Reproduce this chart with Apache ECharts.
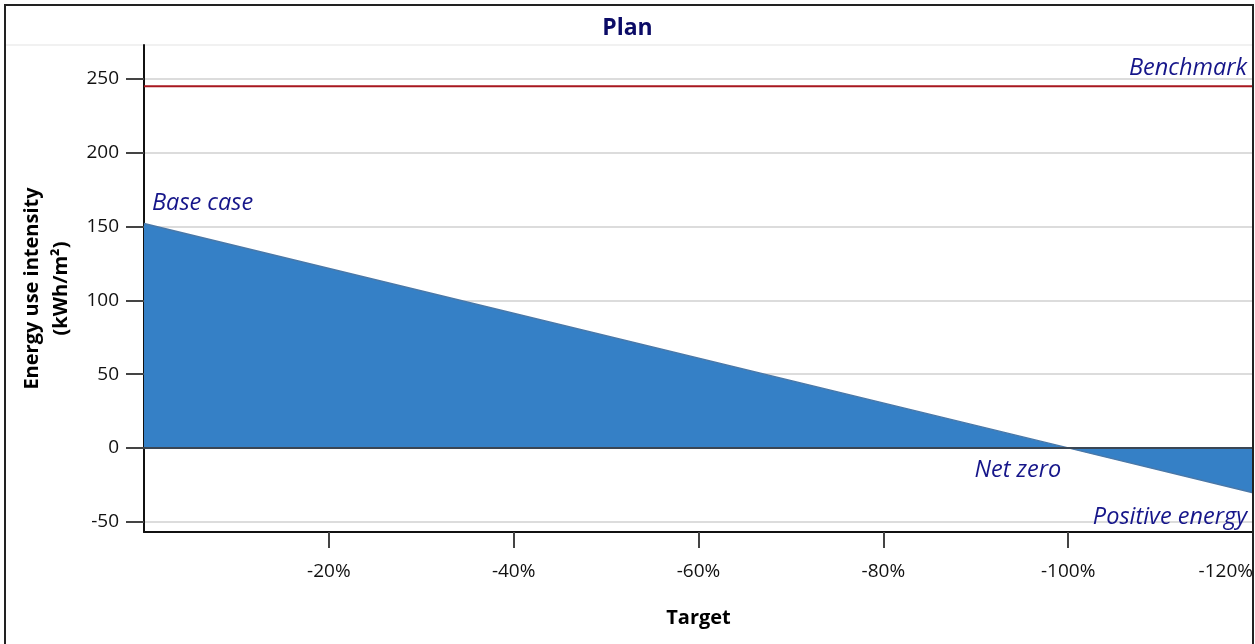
<!DOCTYPE html>
<html>
<head>
<meta charset="utf-8">
<script src="https://cdn.jsdelivr.net/npm/echarts@6/dist/echarts.min.js"></script>
<style>html,body{margin:0;padding:0;background:#fff}#c{width:1255px;height:644px}</style>
</head>
<body>
<div id="c"></div>
<script>
var targets = [0, -100, -120];          // % reduction (x)
var eui = [152, 0, -30.4];              // kWh/m2
var benchmark = 245;
var yTicks = [-50, 0, 50, 100, 150, 200, 250];
var xTicks = [-20, -40, -60, -80, -100, -120];

var FONT = '"Open Sans", "Noto Sans", sans-serif';
var navy = '#16168a';

var chart = echarts.init(document.getElementById('c'), null, {renderer: 'canvas'});
chart.setOption({
  animation: false,
  backgroundColor: '#fff',
  title: {
    text: 'Plan', left: 'center', top: 12,
    textStyle: {fontFamily: FONT, fontSize: 23, fontWeight: 'bold', color: '#0b0b66'}
  },
  grid: {left: 144, right: 2, top: 45, bottom: 112, containLabel: false, outerBoundsMode: 'none'},
  xAxis: {
    type: 'value', inverse: true, min: -120, max: 0,
    name: 'Target', nameLocation: 'middle', nameGap: 76,
    nameTextStyle: {fontFamily: FONT, fontSize: 20, fontWeight: 'bold', color: '#000'},
    axisLine: {show: true, onZero: false, lineStyle: {color: '#111', width: 2}},
    axisTick: {show: true, length: 16, customValues: xTicks, lineStyle: {color: '#444', width: 2}},
    axisLabel: {customValues: xTicks, margin: 30, fontFamily: FONT, fontSize: 19, color: '#111',
      alignMaxLabel: 'right',
      formatter: function (v) { return v + '%'; }},
    splitLine: {show: false}
  },
  yAxis: {
    type: 'value', min: -57, max: 273,
    name: 'Energy use intensity\n(kWh/m²)', nameLocation: 'middle', nameGap: 68,
    nameTextStyle: {fontFamily: FONT, fontSize: 20, fontWeight: 'bold', color: '#000', lineHeight: 29},
    axisLine: {show: true, lineStyle: {color: '#111', width: 2}},
    axisTick: {show: true, length: 18, customValues: yTicks, lineStyle: {color: '#444', width: 2}},
    axisLabel: {customValues: yTicks, margin: 25, fontFamily: FONT, fontSize: 19, color: '#111'},
    splitLine: {show: true, lineStyle: {color: '#dcdcdc', width: 2}}
  },
  series: [
    {
      type: 'line', name: 'EUI',
      data: targets.map(function (t, i) { return [t, eui[i]]; }),
      symbol: 'none',
      lineStyle: {color: '#4a78a8', width: 1.5},
      areaStyle: {color: '#3580c6', opacity: 1, origin: 0},
      z: 3,
      markLine: {
        silent: true, symbol: 'none', label: {show: false},
        lineStyle: {color: '#3a4654', width: 2, type: 'solid'},
        data: [{yAxis: 0}]
      },
      markPoint: {
        symbol: 'circle', symbolSize: 0, silent: true,
        label: {show: true, fontFamily: FONT, fontStyle: 'italic', fontSize: 23.5, color: navy, distance: 0},
        data: [
          {coord: [targets[0], eui[0]], value: 'Base case', label: {formatter: 'Base case', position: 'right', offset: [8, -20]}},
          {coord: [targets[1], eui[1]], value: 'Net zero', label: {formatter: 'Net zero', position: 'left', offset: [-7, 22]}},
          {coord: [targets[2], -50], value: 'Positive energy', label: {formatter: 'Positive energy', position: 'left', offset: [-6, -4]}}
        ]
      }
    },
    {
      type: 'line', name: 'Benchmark',
      data: [[0, benchmark], [-120, benchmark]],
      symbol: 'none', z: 4,
      lineStyle: {color: '#a8171f', width: 2},
      markPoint: {
        symbol: 'circle', symbolSize: 0, silent: true,
        label: {show: true, fontFamily: FONT, fontStyle: 'italic', fontSize: 23.5, color: navy, distance: 0},
        data: [{coord: [-120, benchmark], value: 'Benchmark', label: {formatter: 'Benchmark', position: 'left', offset: [-6, -18]}}]
      }
    }
  ],
  graphic: [
    {type: 'line', shape: {x1: 6, y1: 45, x2: 1252, y2: 45}, style: {stroke: '#ececec', lineWidth: 1.5}, z: -1},
    {type: 'rect', shape: {x: 5, y: 5, width: 1248, height: 700}, style: {fill: null, stroke: '#222', lineWidth: 2}, z: 100}
  ]
});
</script>
</body>
</html>
